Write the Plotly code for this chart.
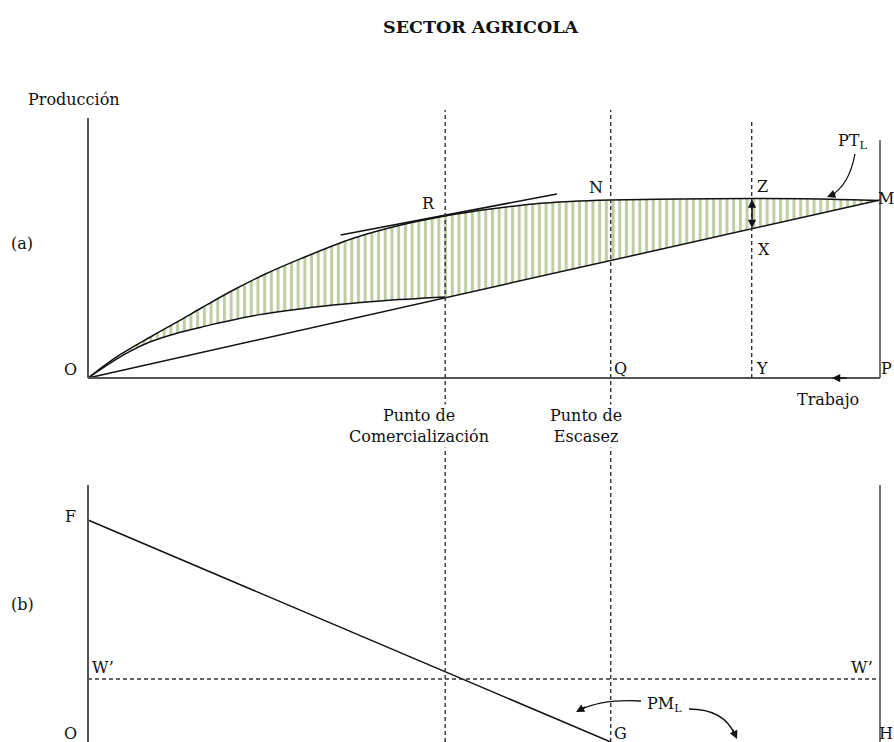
import plotly.graph_objects as go

# ---------------- data (schematic values) ----------------
# Panel (a): total product of labour PT_L (labour 0..100, production units)
pt_labor = [0, 3.8, 8.1, 11.6, 14.4, 18.6, 22.4, 26.8, 33.5, 39.0, 45.1, 50.8, 56.2, 60.9, 66.0, 74.8, 83.8, 92.4, 100]
pt_prod = [0, 12.4, 23.6, 32.4, 39.6, 50.0, 58.4, 66.9, 78.5, 85.4, 91.0, 94.9, 97.8, 99.2, 100.0, 100.6, 100.8, 100.6, 99.7]

# lower curve from O to the commercialization point
low_labor = [0, 2.8, 5.3, 7.8, 11.0, 14.4, 21.7, 29.3, 36.9, 45.1]
low_prod = [0, 8.4, 15.0, 20.2, 24.9, 28.7, 35.6, 40.2, 43.3, 45.5]

# straight line O-M
om_labor = [0, 100]
om_prod = [0, 100]

# tangent at R
tan_labor = [31.9, 59.2]
tan_prod = [80.3, 103.4]

# key labour positions
commercial_pt = 45.1
scarcity_pt = 66.0
y_pt = 83.8

# Panel (b): marginal product PM_L and wage W'
pm_labor = [0, 66]
pm_value = [100, 0]
wage_level = 28.4

# ---------------- geometry helpers ----------------
W, H = 894, 742
PXU = 7.92           # px per labour unit
X0 = 88              # px of labour 0
YA0, SA = 378, 1.78  # panel a: px of production 0, px per unit
YB0, SB = 742, 2.22  # panel b
SPLIT = 460          # px boundary between panels

def P(px, py):
    return px / W, 1 - py / H

FONT = "DejaVu Serif"
INK = "#111111"
AXC = "#555555"
DASHC = "#333333"
GREEN = "#7C9F45"

fig = go.Figure()

pattern = dict(shape="|", size=6.7, solidity=0.45, fgcolor=GREEN,
               bgcolor="rgba(0,0,0,0)")

# region A: between lower curve and PT (0..commercial point)
topA_x = [x for x in pt_labor if x <= commercial_pt]
topA_y = [y for x, y in zip(pt_labor, pt_prod) if x <= commercial_pt]
fig.add_trace(go.Scatter(x=low_labor, y=low_prod, mode="lines",
                         line=dict(width=0, shape="spline", color="rgba(0,0,0,0)"),
                         hoverinfo="skip", showlegend=False))
fig.add_trace(go.Scatter(x=topA_x, y=topA_y, mode="lines", fill="tonexty",
                         fillpattern=pattern, fillcolor="rgba(0,0,0,0)",
                         line=dict(width=0, shape="spline", color="rgba(0,0,0,0)"),
                         hoverinfo="skip", showlegend=False))
# region B: between O-M line and PT (commercial point..100)
topB_x = [x for x in pt_labor if x >= commercial_pt]
topB_y = [y for x, y in zip(pt_labor, pt_prod) if x >= commercial_pt]
fig.add_trace(go.Scatter(x=[commercial_pt, om_labor[1]],
                         y=[commercial_pt * om_prod[1] / om_labor[1], om_prod[1]],
                         mode="lines", line=dict(width=0, color="rgba(0,0,0,0)"),
                         hoverinfo="skip", showlegend=False))
fig.add_trace(go.Scatter(x=topB_x, y=topB_y, mode="lines", fill="tonexty",
                         fillpattern=pattern, fillcolor="rgba(0,0,0,0)",
                         line=dict(width=0, shape="spline", color="rgba(0,0,0,0)"),
                         hoverinfo="skip", showlegend=False))

# curves
line_style = dict(color=INK, width=1.5)
fig.add_trace(go.Scatter(x=pt_labor, y=pt_prod, mode="lines",
                         line=dict(line_style, shape="spline"), showlegend=False))
fig.add_trace(go.Scatter(x=low_labor, y=low_prod, mode="lines",
                         line=dict(line_style, shape="spline"), showlegend=False))
fig.add_trace(go.Scatter(x=om_labor, y=om_prod, mode="lines",
                         line=line_style, showlegend=False))
fig.add_trace(go.Scatter(x=tan_labor, y=tan_prod, mode="lines",
                         line=line_style, showlegend=False))

# panel b
fig.add_trace(go.Scatter(x=pm_labor, y=pm_value, mode="lines", yaxis="y2",
                         line=line_style, showlegend=False))
fig.add_trace(go.Scatter(x=[0, 100], y=[wage_level, wage_level], mode="lines",
                         yaxis="y2", line=dict(color=DASHC, width=1.4, dash="4px,3px"),
                         showlegend=False))

shapes = []
# axes panel a
shapes.append(dict(type="line", xref="x", yref="y", x0=0, x1=0, y0=0,
                   y1=(YA0 - 118) / SA, line=dict(color=AXC, width=2)))
shapes.append(dict(type="line", xref="x", yref="y", x0=100, x1=100, y0=0,
                   y1=(YA0 - 140) / SA, line=dict(color=AXC, width=1.6)))
shapes.append(dict(type="line", xref="x", yref="y", x0=0, x1=100, y0=0, y1=0,
                   line=dict(color=AXC, width=2)))
# axes panel b
shapes.append(dict(type="line", xref="x", yref="y2", x0=0, x1=0, y0=0,
                   y1=(YB0 - 485) / SB, line=dict(color=AXC, width=2)))
shapes.append(dict(type="line", xref="x", yref="y2", x0=100, x1=100, y0=0,
                   y1=(YB0 - 485) / SB, line=dict(color=AXC, width=1.6)))
# dashed verticals
for xv in (commercial_pt, scarcity_pt):
    shapes.append(dict(type="line", xref="x", yref="paper", x0=xv, x1=xv,
                       y0=0, y1=P(0, 110)[1],
                       line=dict(color=DASHC, width=1.4, dash="4px,3px")))
shapes.append(dict(type="line", xref="x", yref="y", x0=y_pt, x1=y_pt,
                   y0=0, y1=(YA0 - 121) / SA,
                   line=dict(color=DASHC, width=1.4, dash="4px,3px")))

# curved arrow shafts (paper coords)
def qpath(p0, c, p1):
    a, b, d = P(*p0), P(*c), P(*p1)
    return f"M {a[0]},{a[1]} Q {b[0]},{b[1]} {d[0]},{d[1]}"

for p0, c, p1 in [((855, 154), (849, 186), (830, 196)),
                  ((641, 701), (602, 699), (580, 710)),
                  ((689, 709), (724, 709), (735, 735))]:
    shapes.append(dict(type="path", xref="paper", yref="paper",
                       path=qpath(p0, c, p1), line=dict(color=INK, width=1.3)))

fig.update_layout(shapes=shapes)

ann = []
def txt(s, px, py, size=16, bold=False, bg=None):
    x, y = P(px, py)
    d = dict(text=f"<b>{s}</b>" if bold else s, x=x, y=y, xref="paper", yref="paper",
             xanchor="center", yanchor="middle", showarrow=False, align="center",
             font=dict(family=FONT, size=size, color=INK))
    if bg:
        d["bgcolor"] = bg
    ann.append(d)

txt("SECTOR AGRICOLA", 481, 27, size=17.5, bold=True)
txt("Producción", 74, 99)
txt("(a)", 22, 243)
txt("(b)", 22, 604)
txt("O", 70, 369)
txt("Q", 620, 368)
txt("Y", 762, 368)
txt("P", 886, 368)
txt("R", 428, 203)
txt("N", 596, 187)
txt("Z", 762, 186)
txt("X", 764, 249)
txt("M", 886, 199)
txt("PT<sub>L</sub>", 852, 141)
txt("Trabajo", 828, 399)
txt("Punto de<br>Comercialización", 419, 426, bg="white")
txt("Punto de<br>Escasez", 586, 426, bg="white")
txt("F", 70, 516)
txt("W’", 103, 667)
txt("W’", 862, 667)
txt("PM<sub>L</sub>", 664, 704)
txt("O", 70, 733)
txt("G", 620, 733)
txt("H", 886, 733)

# arrowheads
def head(tx, ty, ax, ay, both=False):
    x, y = P(tx, ty)
    d = dict(x=x, y=y, xref="paper", yref="paper", text="", showarrow=True,
             ax=ax, ay=ay, arrowhead=2, arrowsize=1.1, arrowwidth=1.5,
             arrowcolor=INK)
    if both:
        d.update(arrowside="end+start", startarrowhead=2, startarrowsize=1.1)
    ann.append(d)

head(752, 228, 0, -30, both=True)   # Z-X
head(832, 378, 16, 0)                # Trabajo direction
head(827, 197, 10, -4)               # PT_L
head(576, 712, 11, -6)               # PM_L left
head(737, 739, -5, -11)              # PM_L right

fig.update_layout(
    annotations=ann,
    width=W, height=H,
    margin=dict(l=0, r=0, t=0, b=0),
    paper_bgcolor="white", plot_bgcolor="white",
    xaxis=dict(range=[-X0 / PXU, (W - X0) / PXU], visible=False),
    yaxis=dict(domain=[P(0, SPLIT)[1], 1], range=[(YA0 - SPLIT) / SA, YA0 / SA],
               visible=False, anchor="x"),
    yaxis2=dict(domain=[0, P(0, SPLIT)[1]], range=[0, (YB0 - SPLIT) / SB],
                visible=False, anchor="x"),
    showlegend=False,
)

fig.write_html(
    "out.html",
    config={"displayModeBar": False},
    post_script="document.body.style.margin='0';document.body.style.overflow='hidden';",
)
